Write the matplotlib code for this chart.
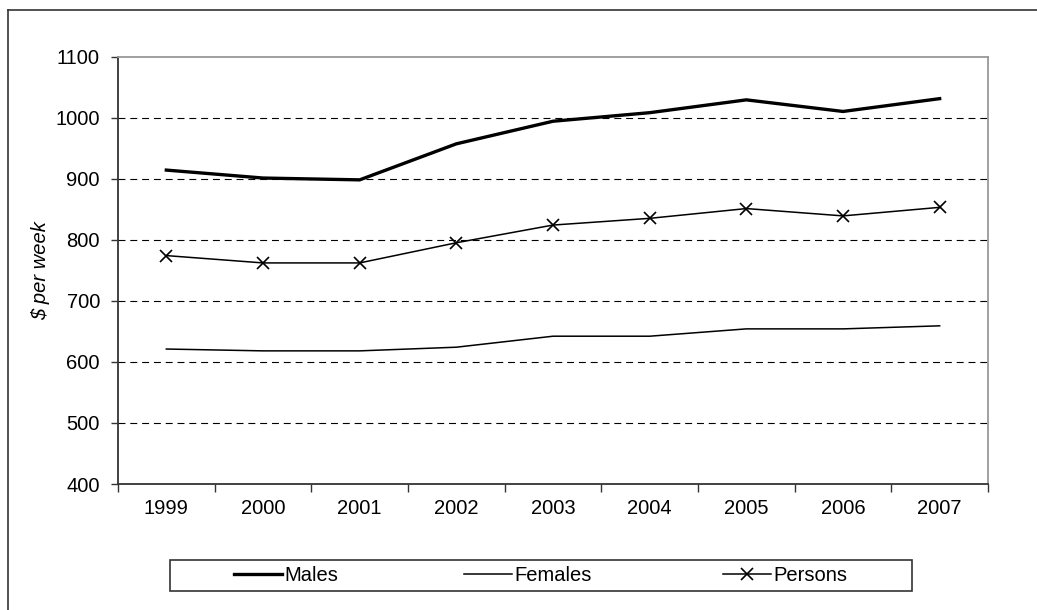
import matplotlib
matplotlib.use("Agg")
import matplotlib.pyplot as plt
from matplotlib.lines import Line2D
from matplotlib.patches import Rectangle
import numpy as np

years = ["1999", "2000", "2001", "2002", "2003", "2004", "2005", "2006", "2007"]
males = [914, 901, 898, 957, 994, 1008, 1029, 1010, 1031]
females = [621, 618, 618, 624, 642, 642, 654, 654, 659]
persons = [774, 762, 762, 795, 824, 835, 851, 839, 853]
y_ticks = [400, 500, 600, 700, 800, 900, 1000, 1100]

plt.rcParams["font.family"] = ["Liberation Sans", "DejaVu Sans"]
plt.rcParams["lines.scale_dashes"] = False

W, H = 1037, 610
fig = plt.figure(figsize=(W / 100, H / 100), dpi=100)

# outer frame (left and top edges visible)
fig.add_artist(Line2D([8 / W, 8 / W], [0, 1 - 10 / H], transform=fig.transFigure,
                      color="#333333", lw=1.2))
fig.add_artist(Line2D([8 / W, 1], [1 - 10 / H, 1 - 10 / H], transform=fig.transFigure,
                      color="#333333", lw=1.2))

left, right, top, bottom = 118, 988, 56.5, 484
ax = fig.add_axes([left / W, 1 - bottom / H, (right - left) / W, (bottom - top) / H])

x = np.arange(len(years))
l_m, = ax.plot(x, males, color="black", lw=2.4, solid_joinstyle="miter", label="Males", zorder=3)
l_f, = ax.plot(x, females, color="black", lw=1.1, label="Females", zorder=3)
l_p, = ax.plot(x, persons, color="black", lw=1.1, marker="x", markersize=8.5, mew=1.2,
               label="Persons", zorder=3)

ax.set_xlim(-0.5, len(years) - 0.5)
ax.set_ylim(y_ticks[0], y_ticks[-1])
ax.set_yticks(y_ticks)
ax.set_yticklabels([str(v) for v in y_ticks])

# category boundaries carry the tick marks, centres carry the labels
ax.set_xticks(np.arange(-0.5, len(years), 1.0))
ax.set_xticklabels([])
ax.set_xticks(x, minor=True)
ax.set_xticklabels(years, minor=True)
ax.tick_params(axis="x", which="major", length=6, width=1.0, color="#333333", direction="out")
ax.tick_params(axis="x", which="minor", length=0, pad=11, labelsize=14.5)
ax.tick_params(axis="y", length=5, width=1.0, color="#333333", direction="out",
               pad=8, labelsize=14.5)

for v in y_ticks[1:-1]:
    ax.axhline(v, color="black", lw=0.8, dashes=(5, 3.5), zorder=1)

for s in ("left", "bottom"):
    ax.spines[s].set_color("#333333")
    ax.spines[s].set_linewidth(1.3)
for s in ("top", "right"):
    ax.spines[s].set_color("#999999")
    ax.spines[s].set_linewidth(1.3)

ax.set_ylabel("$ per week", fontsize=14.5, style="italic", labelpad=4)

# legend box
leg_l, leg_r, leg_t, leg_b = 170, 912, 560, 591
fig.add_artist(Rectangle((leg_l / W, 1 - leg_b / H), (leg_r - leg_l) / W, (leg_b - leg_t) / H,
                         transform=fig.transFigure, fill=False, edgecolor="#333333", lw=1.2))
leg_y = 1 - (leg_t + leg_b) / 2 / H
for handle, name, xpos in ((l_m, "Males", 234), (l_f, "Females", 464), (l_p, "Persons", 723)):
    fig.legend([handle], [name], loc="center left",
               bbox_to_anchor=(xpos / W, leg_y), frameon=False, fontsize=14.5,
               handlelength=2.4, handletextpad=0.1, borderpad=0, borderaxespad=0)

fig.savefig("out.png", dpi=100)
